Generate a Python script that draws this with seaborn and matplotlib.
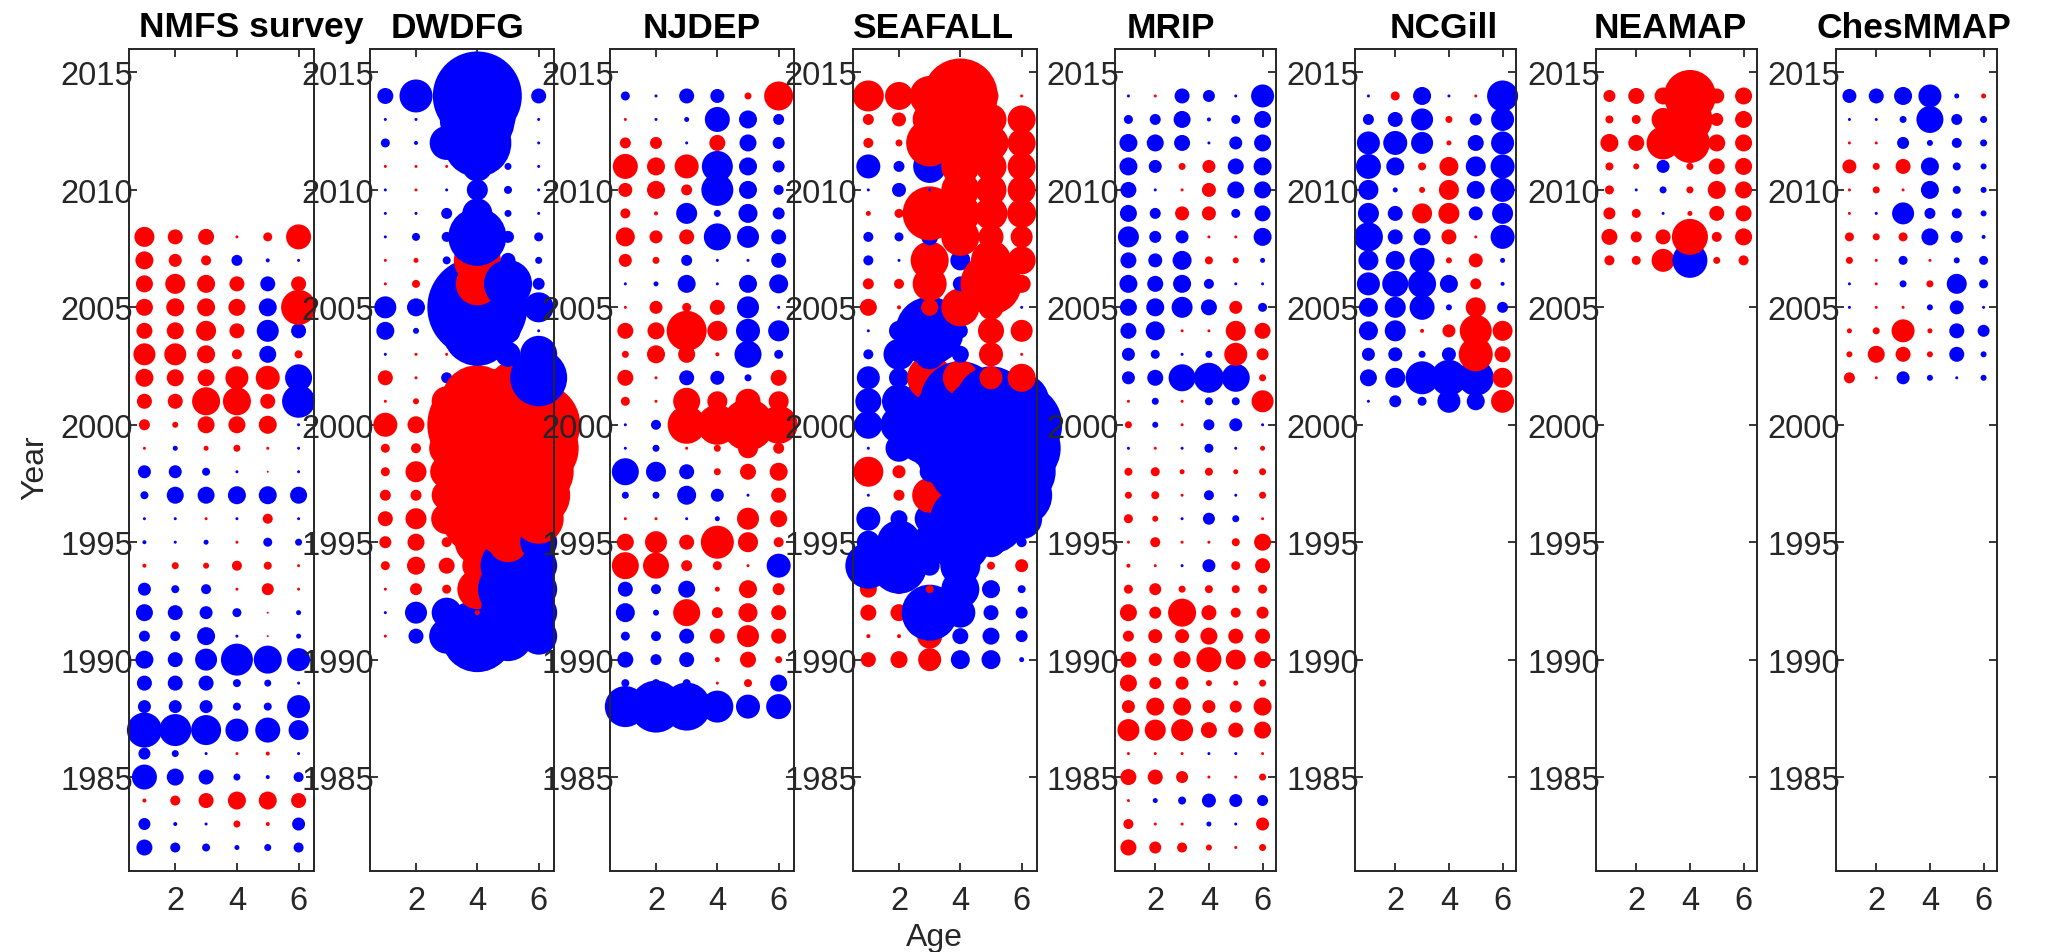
import numpy as np
import pandas as pd
import matplotlib
matplotlib.use("Agg")
import matplotlib.pyplot as plt
import seaborn as sns

# Age-composition residuals by survey (scaled x10; + = observed above model,
# - = below). Rows run from the latest year down to the earliest, columns are ages 1-6.
AGES = [1, 2, 3, 4, 5, 6]

nmfs_years = list(range(2008, 1981, -1))
nmfs_resid = [
    [20, 15, 16, 3, 9, 25],
    [18, 13, 10, -11, -4, -3],
    [17, 20, 18, 15, -15, 15],
    [17, 18, 18, 17, -18, 35],
    [16, 17, 20, 15, -22, -15],
    [22, 22, 18, 10, -17, 8],
    [18, 17, 17, 23, 24, -27],
    [15, 15, 28, 28, 15, -33],
    [11, 6, 17, 17, 18, -3],
    [3, -5, 5, 7, 3, -3],
    [-13, -13, -8, -3, 2, -3],
    [-8, -17, -17, -18, -18, -17],
    [-3, -3, 3, -3, 10, -3],
    [-4, -3, -5, 3, -9, -7],
    [4, 7, 6, 10, 8, 3],
    [-13, -8, -10, 3, 12, 3],
    [-17, -15, -13, -9, 2, -5],
    [-11, -10, -18, -3, 2, -5],
    [-18, -15, -22, -32, -28, -23],
    [-15, -15, -15, -8, -7, -3],
    [-13, -13, -13, -8, -8, -23],
    [-35, -32, -30, -23, -25, -20],
    [-12, -7, -3, 3, 4, -3],
    [-25, -17, -15, -7, -4, -10],
    [4, 10, 15, 18, 18, 15],
    [-12, -4, -3, 7, 4, -13],
    [-16, -10, -8, -5, -7, -10],
]

dwdfg_years = list(range(2014, 1990, -1))
dwdfg_resid = [
    [-16, -33, -20, -89, -20, -15],
    [-3, -3, -10, -75, -15, -3],
    [-9, -4, -34, -68, -5, -3],
    [3, 3, 3, -30, -7, -3],
    [-3, 3, -3, -21, -8, -3],
    [-3, -3, -11, -30, -7, -3],
    [-3, -8, -10, -58, -12, -9],
    [3, 5, -8, 47, -15, -7],
    [3, 8, -10, 43, -48, -12],
    [-22, -18, -15, -100, -20, -30],
    [-18, -6, -10, -70, -25, -3],
    [-3, 3, 3, -20, -25, -37],
    [15, 3, -11, 25, 30, -57],
    [3, 6, 30, 72, 70, 50],
    [24, 17, 35, 100, 95, 83],
    [9, 10, 35, 90, 90, 80],
    [9, 21, 33, 85, 85, 70],
    [11, 11, 30, 80, 80, 63],
    [15, 21, 31, 70, 75, 50],
    [12, 17, 10, 45, 40, -37],
    [9, 18, 16, 30, -55, -37],
    [3, 12, 9, 40, -60, -37],
    [-3, -22, -30, 5, -55, -37],
    [3, -15, -35, -72, -50, -37],
]

njdep_years = list(range(2014, 1987, -1))
njdep_resid = [
    [-9, -3, -15, -14, 7, 29],
    [3, -3, -5, -25, -18, -11],
    [11, 12, -3, 16, -17, -12],
    [25, 18, 24, -31, -18, -12],
    [14, 18, 11, -32, -18, -10],
    [10, 4, -21, -7, -19, -12],
    [19, 13, 15, -27, -22, -15],
    [13, 7, -11, -3, -3, -15],
    [-3, -5, -18, -3, -18, -19],
    [3, 13, 9, 15, -22, -3],
    [16, 17, 40, 20, -24, -21],
    [7, 18, 17, 4, -27, -9],
    [16, 3, -15, -14, -7, 16],
    [9, 3, 27, 20, 25, 20],
    [-3, -10, 38, 40, 52, 38],
    [-3, -7, 3, 7, 20, 11],
    [-27, -20, -15, 7, 16, 18],
    [-7, -7, -19, -13, -3, 15],
    [3, 3, -3, -5, 22, 17],
    [17, 22, 15, 33, 20, 10],
    [27, 26, 11, 9, 3, -24],
    [-15, -10, -17, 5, 18, 12],
    [-19, -6, 27, 11, 19, 15],
    [-9, -10, -15, 15, 22, 15],
    [-16, -11, -15, 5, 16, 7],
    [-8, -8, -8, 3, 8, -17],
    [-41, -52, -48, -32, -24, -25],
]

seafall_years = list(range(2014, 1989, -1))
seafall_resid = [
    [31, 28, 40, 75, 15, 3],
    [11, 14, 34, 55, 31, 28],
    [10, 7, 47, 50, 35, 28],
    [-24, -11, -33, 38, 31, 28],
    [-3, -14, -3, 38, 31, 28],
    [5, 9, 54, 40, 33, 29],
    [-10, -9, -17, 38, 25, 22],
    [-10, -3, 38, -20, 40, 28],
    [11, 10, 34, -15, 61, 18],
    [17, 4, 17, 38, 25, -3],
    [-3, -20, -68, -15, 26, 22],
    [-10, -31, -30, -17, 24, 3],
    [-23, -20, 45, 35, 23, 28],
    [-26, -34, -50, -80, -70, -55],
    [-28, -37, -80, -100, -100, -81],
    [-3, -27, -40, -90, -100, -78],
    [30, 13, -20, -60, -90, -68],
    [-3, 11, 35, 20, -80, -61],
    [-24, -17, -30, -60, -70, -41],
    [-23, -44, -35, -60, -30, -10],
    [-46, -56, -20, -40, 8, 13],
    [17, 10, 8, -38, -18, -8],
    [16, 17, -56, -30, -15, -12],
    [4, 4, 25, -16, -17, -12],
    [15, 17, 23, -19, -19, -5],
]

mrip_years = list(range(2014, 1981, -1))
mrip_resid = [
    [-3, 3, -15, -12, -3, -23],
    [-9, -11, -17, -4, -9, -17],
    [-18, -17, -16, -3, -13, -17],
    [-18, -13, 7, 13, -16, -18],
    [-16, -3, 3, 14, -17, -17],
    [-17, -11, 14, 14, -9, -16],
    [-21, -12, -13, 3, 3, -18],
    [-16, -14, -19, 8, 6, -5],
    [-18, -16, -18, -10, -3, -3],
    [-17, -18, -21, -16, 13, -9],
    [-16, -19, 3, 3, 20, 16],
    [-13, -9, -3, -7, 23, 12],
    [-13, -16, -27, -30, -28, 7],
    [3, -7, 3, -8, -8, 22],
    [7, -6, 3, -11, -13, -3],
    [-3, 3, -3, -9, -3, 5],
    [8, 9, 5, 8, 5, 7],
    [7, 8, 3, -10, -3, 7],
    [9, 6, -3, -12, -7, 3],
    [3, 10, 3, 3, 8, 17],
    [4, 3, -3, -13, 9, 15],
    [9, 12, 7, 8, 8, 9],
    [17, 12, 28, 15, 10, 12],
    [11, 14, 14, 17, 15, 15],
    [16, 13, 17, 25, 20, 17],
    [17, 12, 13, 6, 5, 7],
    [13, 18, 18, 13, 12, 18],
    [22, 21, 22, 16, 15, 17],
    [3, 3, 3, -3, -3, 3],
    [16, 15, 12, 3, 3, 7],
    [3, -5, -8, -14, -13, -11],
    [10, 3, 3, -5, -3, 13],
    [16, 12, 10, 6, 3, 7],
]

ncgill_years = list(range(2014, 2000, -1))
ncgill_resid = [
    [-3, 9, -18, -3, 3, -31],
    [-11, -15, -22, 7, -12, -23],
    [-23, -24, -22, 5, -16, -23],
    [-25, -18, 8, 19, -20, -24],
    [-20, -5, 6, 20, -18, -24],
    [-21, -15, 20, 21, -14, -21],
    [-29, -15, -17, 15, 3, -24],
    [-20, -19, -25, 6, 14, -5],
    [-23, -26, -28, -18, 11, -4],
    [-19, -21, -25, -6, 20, -11],
    [-19, -21, 4, 13, 32, 20],
    [-13, -14, -7, -14, 34, 16],
    [-17, -20, -33, -36, -36, 20],
    [-3, -12, -9, -23, -18, 23],
]

neamap_years = list(range(2014, 2006, -1))
neamap_resid = [
    [12, 16, 17, 52, 15, 17],
    [8, 9, 23, 45, 13, 17],
    [18, 16, 33, 40, 17, 17],
    [8, 6, -13, 7, 16, 17],
    [9, -3, -7, 7, 18, 17],
    [12, 9, -3, 5, 15, 16],
    [16, 11, 15, 36, 10, 17],
    [10, 9, 23, -35, 7, 10],
]

chesmmap_years = list(range(2014, 2001, -1))
chesmmap_resid = [
    [-14, -15, -18, -23, -5, 5],
    [-3, -3, -7, -27, -11, -7],
    [3, 3, -12, -6, -10, -7],
    [14, 7, 15, -18, -8, -6],
    [3, 7, 3, -18, -8, -6],
    [3, -3, -22, -11, -10, -6],
    [9, 7, 9, -17, -12, -4],
    [7, 3, -9, 3, -6, -9],
    [-3, 3, -7, 7, -20, -9],
    [-3, 3, 3, -6, -14, -3],
    [5, 7, 23, 5, -15, -12],
    [6, 17, 15, 6, -15, -6],
    [11, 3, -13, -6, -3, -6],
]

survey_names = ["NMFS survey", "DWDFG", "NJDEP", "SEAFALL",
                "MRIP", "NCGill", "NEAMAP", "ChesMMAP"]
survey_tables = [
    (nmfs_years, nmfs_resid), (dwdfg_years, dwdfg_resid),
    (njdep_years, njdep_resid), (seafall_years, seafall_resid),
    (mrip_years, mrip_resid), (ncgill_years, ncgill_resid),
    (neamap_years, neamap_resid), (chesmmap_years, chesmmap_resid),
]


def to_long(years, resid):
    """Long table in column-major order (age, then ascending year)."""
    rows = []
    order = sorted(range(len(years)), key=lambda i: years[i])
    for j, age in enumerate(AGES):
        for i in order:
            r = resid[i][j]
            rows.append({"Age": age, "Year": years[i], "Resid": r,
                         "Sign": "pos" if r > 0 else "neg",
                         "Mag2": float(r) ** 2})
    return pd.DataFrame(rows)


sns.set_theme(style="white")
plt.rcParams["font.family"] = ["Liberation Sans", "DejaVu Sans"]

W, H = 2069, 953
fig = plt.figure(figsize=(W / 100, H / 100), dpi=100)
fig.patch.set_facecolor("white")

ax_left = [129, 370, 610, 853, 1115, 1355, 1596, 1836]
ax_width = [185, 184, 184, 184, 161, 161, 161, 161]
ax_top, ax_bottom = 50, 872
# horizontal nudge of each panel title, in pixels
title_shift = [30, -4, 0, -12, -25, 8, -6, -3]

# marker diameter in pixels equals |resid| (x10 units); area in points^2
RMAX = 100.0
SMAX = (RMAX * 0.72) ** 2
ink = "#262626"

for k, (name, (years, resid)) in enumerate(zip(survey_names, survey_tables)):
    ax = fig.add_axes([ax_left[k] / W, 1 - ax_bottom / H,
                       ax_width[k] / W, (ax_bottom - ax_top) / H])
    ax.set_facecolor("none")
    df = to_long(years, resid)
    sns.scatterplot(data=df, x="Age", y="Year", hue="Sign",
                    palette={"pos": "#ff0000", "neg": "#0000ff"},
                    size="Mag2", sizes=(0, SMAX), size_norm=(0, RMAX ** 2),
                    legend=False, linewidth=0, clip_on=False, ax=ax)
    ax.set_xlim(0.5, 6.5)
    ax.set_ylim(1981, 2016)
    ax.set_xticks([2, 4, 6])
    ax.set_yticks(list(range(1985, 2016, 5)))
    ax.set_xlabel("")
    ax.set_ylabel("")
    ax.tick_params(direction="in", length=6, width=1.3, colors=ink,
                   labelsize=23.5, top=True, right=True, left=True, bottom=True)
    ax.tick_params(axis="y", pad=-3)
    ax.tick_params(axis="x", pad=10)
    for sp in ax.spines.values():
        sp.set_color(ink)
        sp.set_linewidth(1.4)
    ax.set_title(name, fontsize=25.5, fontweight="bold", color="black", pad=9,
                 x=0.5 + title_shift[k] / ax_width[k])

fig.text(934 / W, 1 - 938 / H, "Age", ha="center", va="center",
         fontsize=23, color=ink)
fig.text(35 / W, 1 - 468 / H, "Year", ha="center", va="center",
         rotation=90, fontsize=23, color=ink)

fig.savefig("out.png", dpi=100, facecolor="white")
